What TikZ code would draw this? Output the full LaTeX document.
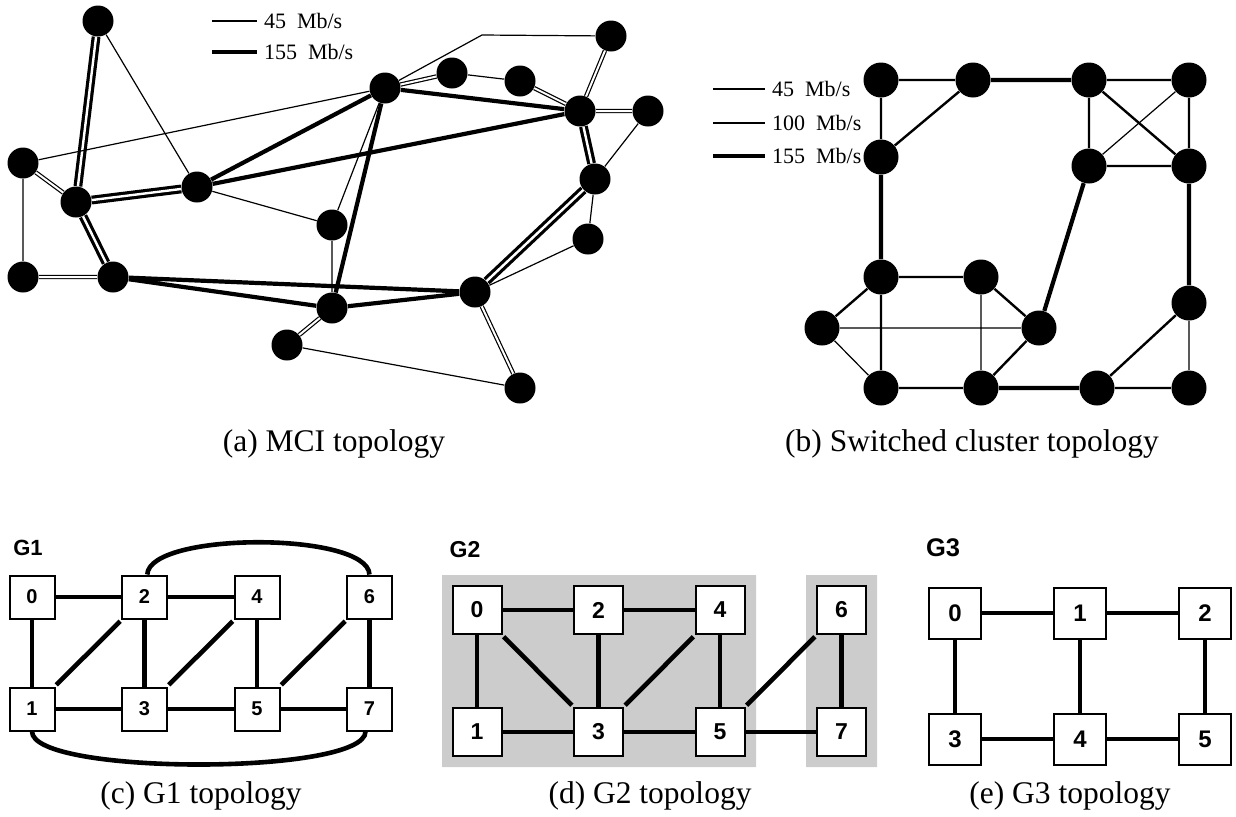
\documentclass[tikz,border=0pt]{standalone}
\usepackage{fontspec}
\setmainfont{Liberation Serif}
\setsansfont{Liberation Sans}
\usetikzlibrary{positioning}

\begin{document}
\begin{tikzpicture}[
    x=0.5pt, y=-0.5pt,
    router/.style={circle, fill, inner sep=0pt, minimum size=15.5pt},
    swnode/.style={circle, fill, inner sep=0pt, minimum size=17.5pt},
    mb45/.style={line width=0.6pt},
    mb100/.style={line width=1.2pt},
    mb155/.style={line width=2.1pt},
    twin45/.style={line width=0.6pt, double, double distance=1pt},
    twin155/.style={line width=1.6pt, double, double distance=1.2pt},
    legtext/.style={anchor=west, font=\fontsize{11pt}{13pt}\selectfont},
    subcap/.style={anchor=base, font=\fontsize{15.75pt}{18pt}\selectfont},
    gname/.style={font=\sffamily\bfseries\fontsize{#1}{#1}\selectfont},
    gbox/.style={draw, line width=1pt, fill=white, inner sep=0pt},
    g1box/.style={gbox, minimum width=22.5pt, minimum height=21.5pt,
      font=\sffamily\bfseries\fontsize{10pt}{12pt}\selectfont},
    g2box/.style={gbox, minimum width=24.5pt, minimum height=24pt,
      font=\sffamily\bfseries\fontsize{11.5pt}{13pt}\selectfont},
    g3box/.style={gbox, minimum width=26pt, minimum height=25.5pt,
      font=\sffamily\bfseries\fontsize{12pt}{14pt}\selectfont},
    glink/.style={line width=2.3pt},
    gdiag/.style={glink, shorten <=1.2pt, shorten >=1.2pt}
]
\useasboundingbox (0,0) rectangle (1236,816);

\node[router] (mA) at (98,21)   {};
\node[router] (mB) at (23,163)  {};
\node[router] (mC) at (76,202)  {};
\node[router] (mD) at (197,187) {};
\node[router] (mE) at (23,277)  {};
\node[router] (mF) at (113,277) {};
\node[router] (mG) at (332,225) {};
\node[router] (mH) at (385,88)  {};
\node[router] (mI) at (332,308) {};
\node[router] (mJ) at (287,345) {};
\node[router] (mK) at (611,36)  {};
\node[router] (mL) at (452,73)  {};
\node[router] (mM) at (520,81)  {};
\node[router] (mN) at (580,111) {};
\node[router] (mO) at (648,111) {};
\node[router] (mP) at (595,179) {};
\node[router] (mQ) at (588,239) {};
\node[router] (mR) at (475,292) {};
\node[router] (mS) at (520,388) {};
\coordinate (mHK) at (482,35);

\draw[twin155] (mA) -- (mC) (mC) -- (mD) (mC) -- (mF) (mN) -- (mP) (mP) -- (mR);
\draw[twin45] (mB) -- (mC) (mE) -- (mF) (mH) -- (mL) (mM) -- (mN)
  (mN) -- (mK) (mN) -- (mO) (mI) -- (mJ) (mR) -- (mS);
\draw[mb155] (mD) -- (mH) (mD) -- (mN) (mF) -- (mR) (mF) -- (mI)
  (mH) -- (mI) (mI) -- (mR) (mH) -- (mN);
\draw[mb45] (mA) -- (mD) (mB) -- (mH) (mB) -- (mE) (mD) -- (mG) (mH) -- (mG)
  (mG) -- (mI) (mJ) -- (mS) (mL) -- (mM) (mO) -- (mP) (mP) -- (mQ) (mQ) -- (mR);
\draw[mb45] (mH) -- (mHK) -- (mK);

\node[legtext] (mkey45)  at (257,21) {45~~Mb/s};
\node[legtext] (mkey155) at (257,52) {155~~Mb/s};
\coordinate (mkey45s)  at (212,21);
\coordinate (mkey155s) at (212,52);
\draw[mb45]  (mkey45s)  -- (mkey45);
\draw[mb155] (mkey155s) -- (mkey155);
\node[subcap] (capa) at (334,451) {(a) MCI topology};

\node[swnode] (s11) at (881,80)   {};
\node[swnode] (s12) at (973,80)   {};
\node[swnode] (s13) at (1089,80)  {};
\node[swnode] (s14) at (1189,80)  {};
\node[swnode] (s21) at (881,157)  {};
\node[swnode] (s23) at (1089,166) {};
\node[swnode] (s24) at (1189,166) {};
\node[swnode] (s31) at (881,277)  {};
\node[swnode] (s32) at (981,277)  {};
\node[swnode] (s34) at (1189,303) {};
\node[swnode] (s40) at (822,328)  {};
\node[swnode] (s43) at (1039,328) {};
\node[swnode] (s51) at (881,388)  {};
\node[swnode] (s52) at (981,388)  {};
\node[swnode] (s53) at (1097,388) {};
\node[swnode] (s54) at (1189,388) {};

\draw[mb45] (s14) -- (s23) (s32) -- (s52) (s40) -- (s43) (s40) -- (s51) (s34) -- (s54);
\draw[mb100] (s11) -- (s12) (s13) -- (s14) (s11) -- (s21) (s21) -- (s12)
  (s13) -- (s23) (s13) -- (s24) (s14) -- (s24) (s23) -- (s24)
  (s31) -- (s32) (s31) -- (s40) (s31) -- (s51) (s32) -- (s43)
  (s43) -- (s52) (s51) -- (s52) (s53) -- (s54) (s53) -- (s34);
\draw[mb155] (s12) -- (s13) (s21) -- (s31) (s23) -- (s43) (s24) -- (s34) (s52) -- (s53);

\node[legtext] (skey45)  at (765,89)  {45~~Mb/s};
\node[legtext] (skey100) at (765,123) {100~~Mb/s};
\node[legtext] (skey155) at (765,156) {155~~Mb/s};
\coordinate (skey45s)  at (713,89);
\coordinate (skey100s) at (713,123);
\coordinate (skey155s) at (713,156);
\draw[mb45]  (skey45s)  -- (skey45);
\draw[mb100] (skey100s) -- (skey100);
\draw[mb155] (skey155s) -- (skey155);
\node[subcap] (capb) at (972,451) {(b) Switched cluster topology};

\begin{scope}[on grid, node distance=56pt and 56.25pt]
\node[gname=11pt] (g1name) at (28,548) {G1};
\node[g1box] (g1n0) at (32,597) {0};
\node[g1box, right=of g1n0] (g1n2) {2};
\node[g1box, right=of g1n2] (g1n4) {4};
\node[g1box, right=of g1n4] (g1n6) {6};
\node[g1box, below=of g1n0] (g1n1) {1};
\node[g1box, below=of g1n2] (g1n3) {3};
\node[g1box, below=of g1n4] (g1n5) {5};
\node[g1box, below=of g1n6] (g1n7) {7};
\end{scope}
\draw[glink] (g1n0) -- (g1n2) (g1n2) -- (g1n4) (g1n0) -- (g1n1) (g1n2) -- (g1n3)
  (g1n4) -- (g1n5) (g1n6) -- (g1n7) (g1n1) -- (g1n3) (g1n3) -- (g1n5) (g1n5) -- (g1n7);
\draw[gdiag] (g1n1) -- (g1n2);
\draw[gdiag] (g1n3) -- (g1n4);
\draw[gdiag] (g1n5) -- (g1n6);
\draw[glink] (g1n2.83) .. controls +(2,-43) and +(-2,-43) .. (g1n6.north);
\draw[glink] (g1n1.south) .. controls +(0,44) and +(0,44) .. (g1n7.-100);
\node[subcap] (capc) at (201,803) {(c) G1 topology};

\fill[black!20] (442,575) rectangle (756,767) (806,575) rectangle (877,767);
\begin{scope}[on grid, node distance=61pt and 60.75pt]
\node[gname=11.5pt] (g2name) at (465,550) {G2};
\node[g2box] (g2n0) at (477,610) {0};
\node[g2box, right=of g2n0] (g2n2) {2};
\node[g2box, right=of g2n2] (g2n4) {4};
\node[g2box, right=of g2n4] (g2n6) {6};
\node[g2box, below=of g2n0] (g2n1) {1};
\node[g2box, below=of g2n2] (g2n3) {3};
\node[g2box, below=of g2n4] (g2n5) {5};
\node[g2box, below=of g2n6] (g2n7) {7};
\end{scope}
\draw[glink] (g2n0) -- (g2n2) (g2n2) -- (g2n4) (g2n0) -- (g2n1) (g2n2) -- (g2n3)
  (g2n4) -- (g2n5) (g2n6) -- (g2n7) (g2n1) -- (g2n3) (g2n3) -- (g2n5) (g2n5) -- (g2n7);
\draw[gdiag] (g2n0) -- (g2n3);
\draw[gdiag] (g2n4) -- (g2n3);
\draw[gdiag] (g2n5) -- (g2n6);
\node[subcap] (capd) at (650,803) {(d) G2 topology};

\begin{scope}[on grid, node distance=63pt and 62.5pt]
\node[gname=12.75pt] (g3name) at (943,548) {G3};
\node[g3box] (g3n0) at (955,613) {0};
\node[g3box, right=of g3n0] (g3n1) {1};
\node[g3box, right=of g3n1] (g3n2) {2};
\node[g3box, below=of g3n0] (g3n3) {3};
\node[g3box, below=of g3n1] (g3n4) {4};
\node[g3box, below=of g3n2] (g3n5) {5};
\end{scope}
\draw[glink] (g3n0) -- (g3n1) (g3n1) -- (g3n2) (g3n0) -- (g3n3) (g3n1) -- (g3n4)
  (g3n2) -- (g3n5) (g3n3) -- (g3n4) (g3n4) -- (g3n5);
\node[subcap] (cape) at (1070,803) {(e) G3 topology};
\end{tikzpicture}
\end{document}
